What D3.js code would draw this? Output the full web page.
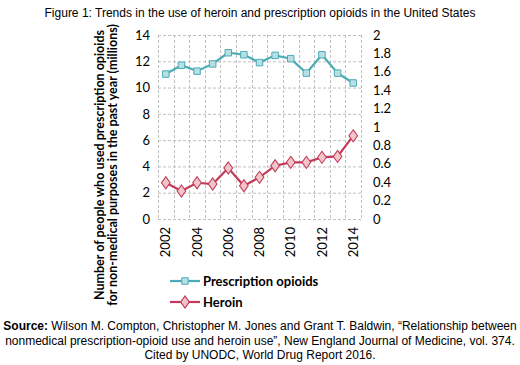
<!DOCTYPE html>
<html><head><meta charset="utf-8">
<script src="https://cdn.jsdelivr.net/npm/d3@7"></script>
<style>body{margin:0;background:#fff}svg{display:block}</style>
</head><body>
<script>
const years = [2002,2003,2004,2005,2006,2007,2008,2009,2010,2011,2012,2013,2014];
const prescription = [11.03,11.7,11.25,11.8,12.65,12.5,11.9,12.45,12.2,11.1,12.5,11.1,10.35];
const heroin = [0.394,0.304,0.394,0.38,0.554,0.361,0.453,0.579,0.616,0.616,0.67,0.68,0.904];
const leftTicks = [0,2,4,6,8,10,12,14];
const rightTicks = [0,0.2,0.4,0.6,0.8,1,1.2,1.4,1.6,1.8,2];
const xTickYears = [2002,2004,2006,2008,2010,2012,2014];

const W=520,H=365;
const svg=d3.select("body").append("svg").attr("width",W).attr("height",H);
const L=158,R=361,T=35,B=219;
const x=d3.scaleBand().domain(years).range([L,R]);
const yL=d3.scaleLinear().domain([0,14]).range([B,T]);
const yR=d3.scaleLinear().domain([0,2]).range([B,T]);
const font="Lato, 'Open Sans', sans-serif";

svg.append("text").attr("x",260).attr("y",17).attr("text-anchor","middle")
 .attr("font-family","Liberation Sans, Arial, sans-serif").attr("font-size",12).attr("fill","#000")
 .text("Figure 1: Trends in the use of heroin and prescription opioids in the United States");

// grid
const g=svg.append("g");
leftTicks.forEach(t=>g.append("line").attr("x1",L).attr("x2",R).attr("y1",yL(t)+0.5).attr("y2",yL(t)+0.5)
  .attr("stroke","#c0c0c0").attr("stroke-dasharray","3,2"));
const bounds=years.map(y=>x(y)).concat([R]);
bounds.forEach(b=>g.append("line").attr("x1",Math.round(b)+0.5).attr("x2",Math.round(b)+0.5).attr("y1",T).attr("y2",B)
  .attr("stroke","#c0c0c0").attr("stroke-dasharray","3,2"));

// axes labels
const axL=svg.append("g").attr("transform",`translate(${L-8},0)`).call(d3.axisLeft(yL).tickValues(leftTicks).tickSize(0).tickPadding(0));
axL.select(".domain").remove();
axL.selectAll("text").attr("font-family",font).attr("font-size",13).attr("fill","#000");
const axR=svg.append("g").attr("transform",`translate(${R+12},0)`).call(d3.axisRight(yR).tickValues(rightTicks).tickFormat(d=>String(d)).tickSize(0).tickPadding(0));
axR.select(".domain").remove();
axR.selectAll("text").attr("font-family",font).attr("font-size",13).attr("fill","#000");

const xb=x.bandwidth()/2;
const axX=svg.append("g").attr("transform",`translate(0,${B+6})`).call(d3.axisBottom(x).tickValues(xTickYears).tickSize(0).tickPadding(0));
axX.select(".domain").remove();
axX.selectAll("text").attr("font-family",font).attr("font-size",13).attr("fill","#000")
 .attr("transform","rotate(-90)").attr("text-anchor","end").attr("dy","0.35em").attr("x",-2).attr("y",0);

// y title
const yt=svg.append("text").attr("transform","translate(104,165) rotate(-90)").attr("text-anchor","middle")
 .attr("font-family",font).attr("font-weight","bold").attr("font-size",12.5).attr("fill","#000");
yt.append("tspan").attr("x",0).attr("dy",0).text("Number of people who used prescription opioids");
yt.append("tspan").attr("x",0).attr("dy",13).text("for non-medical purposes in the past year (millions)");

const pColor="#4aacb4", pFill="#b9dfe5", hColor="#c23a5a", hFill="#f2c6c8";
const lineP=d3.line().x((d,i)=>x(years[i])+xb).y(d=>yL(d));
const lineH=d3.line().x((d,i)=>x(years[i])+xb).y(d=>yR(d));
svg.append("path").datum(prescription).attr("d",lineP).attr("fill","none").attr("stroke",pColor).attr("stroke-width",2.2);
svg.append("path").datum(heroin).attr("d",lineH).attr("fill","none").attr("stroke",hColor).attr("stroke-width",2.2);
const sq=d3.symbol().type(d3.symbolSquare).size(42);
const dm=d3.symbol().type(d3.symbolDiamond).size(42);
svg.selectAll(".p").data(prescription).join("path").attr("d",sq)
 .attr("transform",(d,i)=>`translate(${x(years[i])+xb},${yL(d)})`).attr("fill",pFill).attr("stroke",pColor).attr("stroke-width",1);
svg.selectAll(".h").data(heroin).join("path").attr("d",dm)
 .attr("transform",(d,i)=>`translate(${x(years[i])+xb},${yR(d)}) scale(1.25,1)`).attr("fill",hFill).attr("stroke",hColor).attr("stroke-width",0.9);

// legend
const leg=[{name:"Prescription opioids",c:pColor,f:pFill,s:sq,y:281},{name:"Heroin",c:hColor,f:hFill,s:dm,y:302}];
leg.forEach(l=>{
  svg.append("line").attr("x1",170).attr("x2",200).attr("y1",l.y).attr("y2",l.y).attr("stroke",l.c).attr("stroke-width",2.2);
  svg.append("path").attr("d",l.s).attr("transform",`translate(185,${l.y})`+(l.s===dm?" scale(1.25,1)":"")).attr("fill",l.f).attr("stroke",l.c).attr("stroke-width",1);
  svg.append("text").attr("x",203).attr("y",l.y+4.5).attr("font-family",font).attr("font-weight","bold").attr("font-size",13).attr("fill","#000").text(l.name);
});

// source
const sf="Liberation Sans, Arial, sans-serif";
const s1=svg.append("text").attr("x",260).attr("y",330).attr("text-anchor","middle").attr("font-family",sf).attr("font-size",12);
s1.append("tspan").attr("font-weight","bold").text("Source:");
s1.append("tspan").text(" Wilson M. Compton, Christopher M. Jones and Grant T. Baldwin, “Relationship between");
svg.append("text").attr("x",260).attr("y",345).attr("text-anchor","middle").attr("font-family",sf).attr("font-size",12)
 .text("nonmedical prescription-opioid use and heroin use”, New England Journal of Medicine, vol. 374.");
svg.append("text").attr("x",260).attr("y",359).attr("text-anchor","middle").attr("font-family",sf).attr("font-size",12)
 .text("Cited by UNODC, World Drug Report 2016.");
</script>
</body></html>
